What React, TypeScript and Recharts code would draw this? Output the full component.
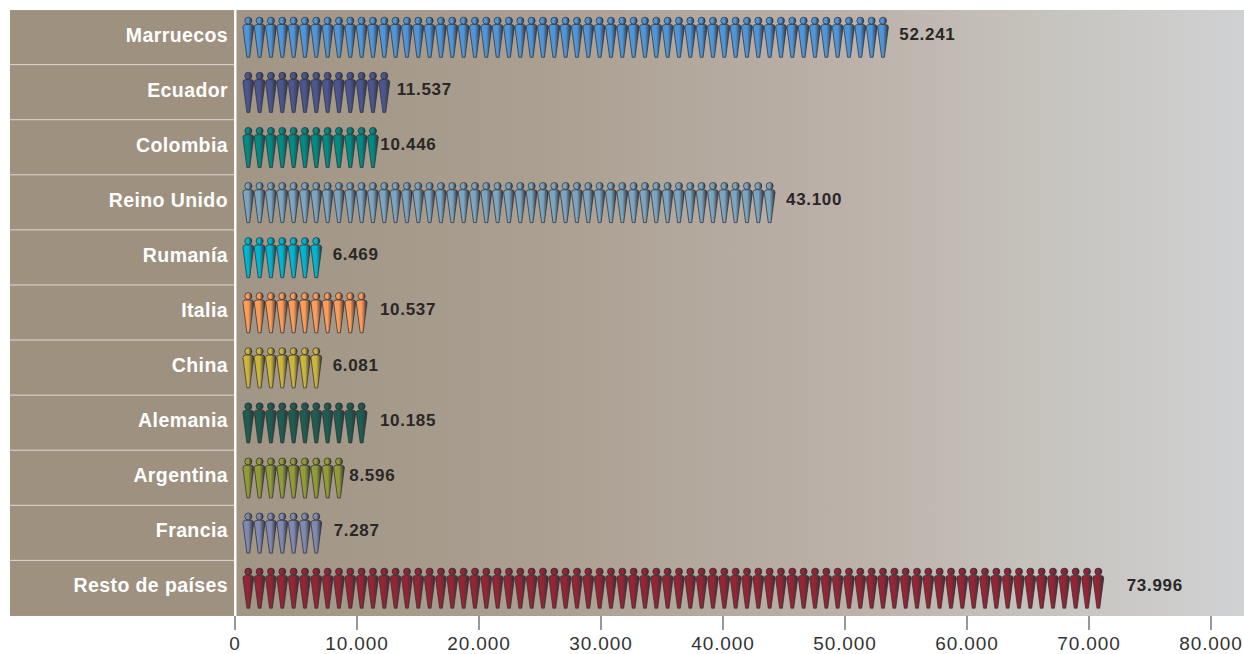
import React from "react";
import { BarChart, Bar, XAxis, YAxis, ReferenceArea, LabelList } from "recharts";

const countries = [
    "Marruecos", "Ecuador", "Colombia", "Reino Unido", "Rumanía", "Italia",
    "China", "Alemania", "Argentina", "Francia", "Resto de países"
];
// figures printed next to each row
const printedValues = [52241, 11537, 10446, 43100, 6469, 10537, 6081, 10185, 8596, 7287, 73996];
// the row lengths in the picture come from whole figures, not from the printed values
const iconCounts = [57, 13, 12, 47, 7, 11, 7, 11, 9, 7, 76];
const rowColors = [
    "#4f96d8", "#4b568f", "#008c82", "#7ca5bf", "#00b6cf", "#fb9c58",
    "#cdb53c", "#1f5d50", "#929c36", "#8089b0", "#952535"
];
const tickValues = [0, 10000, 20000, 30000, 40000, 50000, 60000, 70000, 80000];

const UNITS_PER_ICON = 929;
const AXIS_MAX = 82705;
const LABEL_GAPS = [11, 7, 2, 11, 11, 13, 11, 13, 5, 12, 23];
const FONT = "'Liberation Sans', Arial, sans-serif";

const data = countries.map((name, i) => ({
    name,
    length: iconCounts[i] * UNITS_PER_ICON,
    printed: printedValues[i]
}));

const formatNumber = (v: number) => String(v).replace(/\B(?=(\d{3})+$)/g, ".");

const iconEnd = (x: number, width: number) => x + 8 + width - 0.7;

const Figures = (props: any) => {
    const { x, y, width, height, index } = props;
    const count = iconCounts[index];
    const pitch = width / count;
    const cy = y + height / 2;
    const icons = [];
    for (let i = 0; i < count; i++) {
        const cx = x + 8 + pitch * i + 5.3;
        icons.push(
            <g key={i} stroke="#2b2b33" strokeWidth={0.7} fill={`url(#icon-${index})`}>
                <circle cx={cx} cy={cy - 16.8} r={3.5} />
                <path
                    d={`M${cx - 5.4} ${cy - 10.5} Q${cx - 5.2} ${cy - 13} ${cx - 2.5} ${cy - 13} L${cx + 2.5} ${cy - 13} Q${cx + 5.2} ${cy - 13} ${cx + 5.4} ${cy - 10.5} L${cx + 1.4} ${cy + 19.8} L${cx - 1.4} ${cy + 19.8} Z`}
                />
            </g>
        );
    }
    return <g>{icons}</g>;
};

const ValueLabel = (props: any) => {
    const { x, y, width, height, index, value } = props;
    return (
        <text
            x={iconEnd(x, width) + LABEL_GAPS[index]}
            y={y + height / 2 - 3}
            dominantBaseline="central"
            fontFamily={FONT}
            fontWeight={700}
            fontSize={17}
            letterSpacing={0.7}
            fill="#2a2727"
        >
            {formatNumber(value)}
        </text>
    );
};

const CountryTick = (props: any) => {
    const { y, payload, index } = props;
    return (
        <g>
            <rect x={10} y={y - 27.5} width={224} height={55} fill="#9e9180" />
            {index < countries.length - 1 && (
                <rect x={10} y={y + 26.5} width={224} height={2} fill="#d9d3ca" />
            )}
            <text
                x={228}
                y={y - 3}
                textAnchor="end"
                dominantBaseline="central"
                fontFamily={FONT}
                fontWeight={700}
                fontSize={19.5}
                letterSpacing={0.4}
                fill="#ffffff"
            >
                {payload.value}
            </text>
        </g>
    );
};

const ValueTick = (props: any) => {
    const { x, y, payload } = props;
    return (
        <g>
            <line x1={x} x2={x} y1={y - 14} y2={y} stroke="#333333" strokeWidth={1} />
            <text
                x={x}
                y={y + 20}
                textAnchor="middle"
                fontFamily={FONT}
                fontSize={19}
                letterSpacing={0.9}
                fill="#333333"
            >
                {formatNumber(payload.value)}
            </text>
        </g>
    );
};

const App = () => (
    <div style={{ position: "absolute", left: 0, top: 0 }}>
        <BarChart
            width={1244}
            height={654}
            data={data}
            layout="vertical"
            margin={{ top: 10, right: 0, bottom: 0, left: 0 }}
            barCategoryGap={0}
        >
            <defs>
                <linearGradient id="plotBg" x1="0" y1="0" x2="1" y2="0">
                    <stop offset="0" stopColor="#a19585" />
                    <stop offset="0.3" stopColor="#aa9f90" />
                    <stop offset="0.62" stopColor="#bcb2aa" />
                    <stop offset="0.8" stopColor="#c6c3bd" />
                    <stop offset="1" stopColor="#d0d1d3" />
                </linearGradient>
                {rowColors.map((c, i) => (
                    <linearGradient key={c} id={`icon-${i}`} x1="0" y1="0" x2="1" y2="0">
                        <stop offset="0" stopColor={c} />
                        <stop offset="0.5" stopColor={c} />
                        <stop offset="1" stopColor="#33333b" />
                    </linearGradient>
                ))}
            </defs>
            <ReferenceArea x1={0} x2={AXIS_MAX} fill="url(#plotBg)" fillOpacity={1} stroke="none" />
            <XAxis
                type="number"
                domain={[0, AXIS_MAX]}
                ticks={tickValues}
                height={38}
                tickSize={14}
                tickMargin={0}
                tickLine={false}
                axisLine={false}
                interval={0}
                tick={<ValueTick />}
            />
            <YAxis
                type="category"
                dataKey="name"
                width={235}
                tickLine={false}
                axisLine={{ stroke: "#ffffff", strokeWidth: 3 }}
                interval={0}
                tick={<CountryTick />}
            />
            <Bar dataKey="length" shape={<Figures />} isAnimationActive={false}>
                <LabelList dataKey="printed" content={<ValueLabel />} />
            </Bar>
        </BarChart>
    </div>
);

export default App;
